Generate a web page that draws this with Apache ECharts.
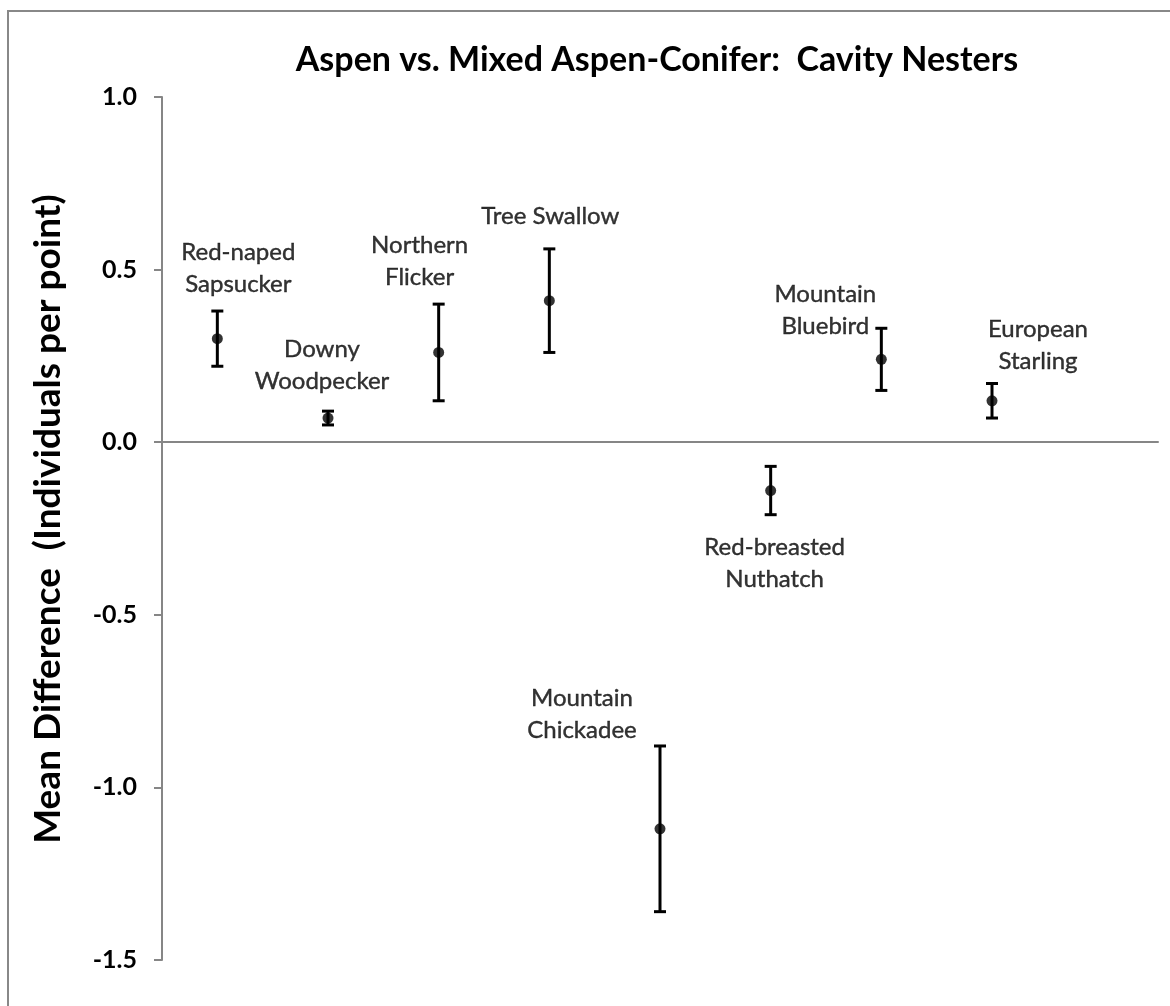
<!DOCTYPE html>
<html><head><meta charset="utf-8">
<script src="https://cdn.jsdelivr.net/npm/echarts@6/dist/echarts.min.js"></script>
<style>html,body{margin:0;padding:0;background:#fff}#c{width:1170px;height:1006px}</style>
</head><body><div id="c"></div>
<script>
const species = ['Red-naped\nSapsucker','Downy\nWoodpecker','Northern\nFlicker','Tree Swallow','Mountain\nChickadee','Red-breasted\nNuthatch','Mountain\nBluebird','European\nStarling'];
const meanDiff = [0.30, 0.07, 0.26, 0.41, -1.12, -0.14, 0.24, 0.12];
const errHalf  = [0.08, 0.02, 0.14, 0.15, 0.24, 0.07, 0.09, 0.05];
const yTicks = [-1.5, -1.0, -0.5, 0.0, 0.5, 1.0];
const titleText = 'Aspen vs. Mixed Aspen-Conifer:  Cavity Nesters';
const yName = 'Mean Difference  (Individuals per point)';
// label placement offsets (pixels) relative to each point
const labelOffsets = [[21,-70],[-6,-53],[-19,-91],[1,-84],[-78,-115],[4,73],[-56,-49],[46,-56]];
const font = 'Lato, "Open Sans", sans-serif';

const chart = echarts.init(document.getElementById('c'));
chart.setOption({
  backgroundColor:'#fff',
  animation:false,
  title:{text:titleText, left:652, top:38, textAlign:'center',
    textStyle:{fontFamily:font, fontWeight:'bold', fontSize:34, color:'#000'}},
  graphic:[
    {type:'rect', shape:{x:8,y:11,width:1200,height:1100}, style:{fill:'none', stroke:'#888', lineWidth:2}, silent:true},
    {type:'text', x:48, y:519, rotation:Math.PI/2, silent:true,
     style:{text:yName, fontFamily:font, fontWeight:'bold', fontSize:37, fill:'#000', align:'center', verticalAlign:'middle'}}
  ],
  grid:{left:162, right:12, top:97, bottom:46},
  xAxis:{type:'value', min:0, max:species.length+1, axisLine:{onZero:true, lineStyle:{color:'#868686', width:2}},
    axisTick:{show:false}, axisLabel:{show:false}, splitLine:{show:false}},
  yAxis:{type:'value', min:yTicks[0], max:yTicks[yTicks.length-1], interval:0.5,
    axisLine:{show:true, lineStyle:{color:'#868686', width:2}},
    axisTick:{show:true, inside:false, length:8, lineStyle:{color:'#868686', width:2}},
    axisLabel:{fontFamily:font, fontWeight:'bold', fontSize:25, color:'#000', margin:25, formatter:v=>v.toFixed(1)},
    splitLine:{show:false}},
  series:[
    {type:'custom', data:meanDiff.map((v,i)=>[i+0.5, v-errHalf[i], v+errHalf[i]]),
     renderItem:function(params, api){
       const lo = api.coord([api.value(0), api.value(1)]);
       const hi = api.coord([api.value(0), api.value(2)]);
       const w = 6;
       const st = {stroke:'#000', lineWidth:3};
       return {type:'group', children:[
         {type:'line', shape:{x1:lo[0],y1:lo[1],x2:hi[0],y2:hi[1]}, style:st},
         {type:'line', shape:{x1:lo[0]-w,y1:lo[1],x2:lo[0]+w,y2:lo[1]}, style:st},
         {type:'line', shape:{x1:hi[0]-w,y1:hi[1],x2:hi[0]+w,y2:hi[1]}, style:st}
       ]};
     }, z:2},
    {type:'scatter', symbol:'circle', symbolSize:11, itemStyle:{color:'#000'}, z:3,
     data:meanDiff.map((v,i)=>({value:[i+0.5, v],
       label:{show:true, formatter:species[i], position:'inside', offset:labelOffsets[i],
         fontFamily:font, fontSize:24, color:'#000', textBorderColor:'#000', textBorderWidth:0.4,
         lineHeight:32, align:'center'}}))}
  ]
});
</script></body></html>
